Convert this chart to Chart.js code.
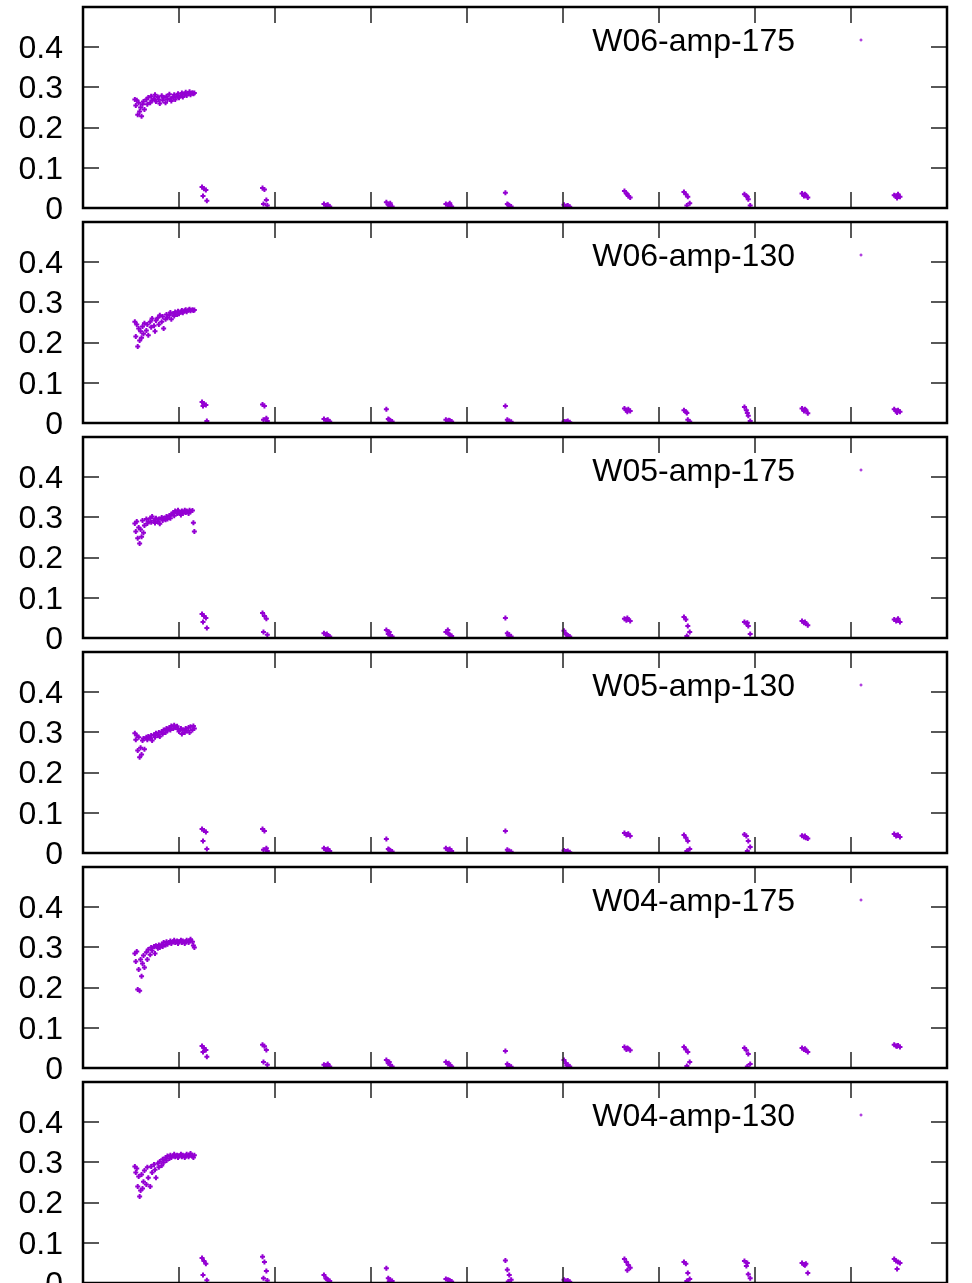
<!DOCTYPE html>
<html>
<head>
<meta charset="utf-8">
<script src="https://cdn.jsdelivr.net/npm/chart.js@4.4.0/dist/chart.umd.min.js"></script>
<style>
  html, body { margin: 0; padding: 0; background: #fff; overflow: hidden; }
  body { width: 972px; height: 1283px; position: relative; }
  canvas { position: absolute; left: 0; }
</style>
</head>
<body>
<script>
// panel titles, top to bottom
const panelLabels = ["W06-amp-175", "W06-amp-130", "W05-amp-175", "W05-amp-130", "W04-amp-175", "W04-amp-130"];

const xTicks = [1, 2, 3, 4, 5, 6, 7, 8];
const yTicks = [0.1, 0.2, 0.3, 0.4];

// x positions of the big group (same for every panel)
const mainX = [0.54, 0.55, 0.56, 0.57, 0.58, 0.59, 0.60, 0.61, 0.62, 0.63, 0.64,
  0.66, 0.67, 0.68, 0.70, 0.71, 0.72, 0.74, 0.75, 0.76, 0.78, 0.79, 0.80,
  0.82, 0.83, 0.84, 0.86, 0.87, 0.88, 0.90, 0.91, 0.92, 0.94, 0.95, 0.96,
  0.98, 0.99, 1.00, 1.02, 1.03, 1.04, 1.06, 1.07, 1.08, 1.10, 1.11, 1.12,
  1.14, 1.15, 1.16];

// x positions of the small groups, 5 points each
const tailX = [
  1.24, 1.26, 1.28, 1.25, 1.29,
  1.87, 1.89, 1.91, 1.88, 1.92,
  2.51, 2.53, 2.55, 2.57, 2.54,
  3.16, 3.18, 3.20, 3.22, 3.19,
  3.78, 3.80, 3.82, 3.84, 3.81,
  4.40, 4.42, 4.44, 4.46, 4.43,
  5.01, 5.03, 5.05, 5.07, 5.04,
  5.64, 5.66, 5.68, 5.70, 5.67,
  6.26, 6.28, 6.30, 6.32, 6.29,
  6.89, 6.91, 6.93, 6.95, 6.92,
  7.49, 7.51, 7.53, 7.55, 7.52,
  8.45, 8.47, 8.49, 8.51, 8.48
];

const w06a175Main = [0.270, 0.255, 0.268, 0.232, 0.262, 0.240, 0.250, 0.228, 0.258, 0.265, 0.245,
  0.270, 0.258, 0.275, 0.262, 0.278, 0.268, 0.272, 0.282, 0.265, 0.276, 0.270, 0.260,
  0.279, 0.268, 0.274, 0.262, 0.278, 0.270, 0.283, 0.272, 0.266, 0.276, 0.282, 0.270,
  0.278, 0.284, 0.274, 0.280, 0.286, 0.276, 0.283, 0.288, 0.280, 0.285, 0.289, 0.282,
  0.287, 0.284, 0.286];
const w06a175Tail = [
  0.052, 0.048, 0.045, 0.030, 0.018,
  0.050, 0.046, 0.020, 0.010, 0.006,
  0.010, 0.006, 0.008, 0.004, 0.007,
  0.014, 0.008, 0.012, 0.004, 0.006,
  0.010, 0.006, 0.012, 0.004, 0.008,
  0.038, 0.010, 0.006, 0.004, 0.008,
  0.008, 0.004, 0.006, 0.003, 0.005,
  0.042, 0.036, 0.030, 0.026, 0.034,
  0.040, 0.034, 0.028, 0.012, 0.006,
  0.034, 0.030, 0.022, 0.006, 0.028,
  0.036, 0.030, 0.032, 0.026, 0.034,
  0.032, 0.030, 0.034, 0.028, 0.025
];

const w06a130Main = [0.252, 0.215, 0.245, 0.190, 0.235, 0.205, 0.228, 0.212, 0.240, 0.222, 0.248,
  0.230, 0.245, 0.218, 0.252, 0.238, 0.260, 0.242, 0.228, 0.255, 0.262, 0.245, 0.268,
  0.252, 0.265, 0.235, 0.258, 0.270, 0.262, 0.268, 0.275, 0.258, 0.272, 0.266, 0.276,
  0.270, 0.278, 0.272, 0.276, 0.280, 0.274, 0.279, 0.282, 0.277, 0.281, 0.283, 0.279,
  0.282, 0.280, 0.281];
const w06a130Tail = [
  0.052, 0.048, 0.045, 0.042, 0.005,
  0.046, 0.042, 0.012, 0.008, 0.005,
  0.010, 0.006, 0.008, 0.004, 0.007,
  0.034, 0.010, 0.006, 0.004, 0.008,
  0.008, 0.005, 0.006, 0.004, 0.007,
  0.042, 0.008, 0.005, 0.003, 0.004,
  0.004, 0.003, 0.005, 0.002, 0.003,
  0.036, 0.032, 0.034, 0.030, 0.028,
  0.032, 0.028, 0.008, 0.004, 0.025,
  0.040, 0.032, 0.018, 0.005, 0.025,
  0.036, 0.030, 0.032, 0.024, 0.034,
  0.034, 0.030, 0.032, 0.028, 0.026
];

const w05a175Main = [0.285, 0.265, 0.290, 0.248, 0.275, 0.235, 0.270, 0.252, 0.292, 0.262, 0.280,
  0.296, 0.285, 0.290, 0.298, 0.288, 0.302, 0.292, 0.286, 0.298, 0.290, 0.296, 0.284,
  0.300, 0.292, 0.298, 0.294, 0.302, 0.296, 0.305, 0.298, 0.308, 0.312, 0.304, 0.316,
  0.310, 0.318, 0.312, 0.306, 0.316, 0.310, 0.318, 0.312, 0.316, 0.310, 0.318, 0.314,
  0.317, 0.287, 0.265];
const w05a175Tail = [
  0.060, 0.055, 0.050, 0.040, 0.025,
  0.062, 0.055, 0.048, 0.015, 0.008,
  0.012, 0.008, 0.006, 0.004, 0.010,
  0.020, 0.010, 0.006, 0.004, 0.015,
  0.015, 0.020, 0.008, 0.005, 0.010,
  0.050, 0.012, 0.008, 0.004, 0.006,
  0.018, 0.010, 0.006, 0.004, 0.008,
  0.048, 0.044, 0.046, 0.042, 0.050,
  0.052, 0.046, 0.030, 0.015, 0.005,
  0.040, 0.036, 0.030, 0.010, 0.038,
  0.042, 0.038, 0.036, 0.032, 0.040,
  0.046, 0.042, 0.048, 0.040, 0.044
];

const w05a130Main = [0.298, 0.282, 0.292, 0.255, 0.288, 0.238, 0.262, 0.245, 0.280, 0.285, 0.258,
  0.288, 0.282, 0.290, 0.286, 0.292, 0.280, 0.294, 0.288, 0.298, 0.292, 0.300, 0.290,
  0.302, 0.296, 0.306, 0.300, 0.310, 0.304, 0.312, 0.306, 0.316, 0.310, 0.318, 0.312,
  0.315, 0.308, 0.302, 0.310, 0.296, 0.306, 0.300, 0.310, 0.304, 0.312, 0.300, 0.314,
  0.306, 0.316, 0.310];
const w05a130Tail = [
  0.060, 0.056, 0.052, 0.030, 0.010,
  0.060, 0.055, 0.012, 0.008, 0.005,
  0.012, 0.008, 0.010, 0.005, 0.007,
  0.035, 0.010, 0.006, 0.004, 0.008,
  0.012, 0.008, 0.010, 0.005, 0.007,
  0.055, 0.008, 0.005, 0.003, 0.004,
  0.006, 0.004, 0.005, 0.002, 0.003,
  0.050, 0.045, 0.048, 0.042, 0.046,
  0.045, 0.038, 0.030, 0.010, 0.005,
  0.046, 0.042, 0.030, 0.015, 0.005,
  0.043, 0.040, 0.038, 0.036, 0.042,
  0.047, 0.042, 0.045, 0.040, 0.044
];

const w04a175Main = [0.285, 0.265, 0.290, 0.195, 0.245, 0.192, 0.270, 0.228, 0.260, 0.280, 0.250,
  0.288, 0.270, 0.295, 0.282, 0.300, 0.292, 0.302, 0.285, 0.304, 0.298, 0.306, 0.300,
  0.308, 0.302, 0.312, 0.306, 0.314, 0.308, 0.312, 0.316, 0.310, 0.314, 0.318, 0.312,
  0.316, 0.310, 0.314, 0.318, 0.312, 0.316, 0.310, 0.314, 0.318, 0.312, 0.316, 0.320,
  0.314, 0.305, 0.300];
const w04a175Tail = [
  0.055, 0.050, 0.045, 0.040, 0.028,
  0.058, 0.054, 0.045, 0.015, 0.008,
  0.008, 0.006, 0.010, 0.004, 0.007,
  0.020, 0.012, 0.008, 0.004, 0.015,
  0.015, 0.010, 0.006, 0.004, 0.012,
  0.042, 0.010, 0.006, 0.003, 0.005,
  0.020, 0.012, 0.008, 0.004, 0.006,
  0.052, 0.046, 0.048, 0.044, 0.050,
  0.052, 0.046, 0.040, 0.015, 0.005,
  0.050, 0.044, 0.035, 0.010, 0.004,
  0.050, 0.046, 0.044, 0.040, 0.048,
  0.058, 0.055, 0.056, 0.052, 0.054
];

const w04a130Main = [0.290, 0.275, 0.285, 0.240, 0.265, 0.215, 0.230, 0.270, 0.235, 0.252, 0.280,
  0.245, 0.288, 0.262, 0.240, 0.290, 0.275, 0.295, 0.282, 0.262, 0.298, 0.288, 0.302,
  0.292, 0.308, 0.300, 0.312, 0.305, 0.316, 0.310, 0.318, 0.312, 0.316, 0.320, 0.314,
  0.318, 0.312, 0.316, 0.320, 0.314, 0.318, 0.312, 0.316, 0.320, 0.314, 0.318, 0.322,
  0.316, 0.312, 0.318];
const w04a130Tail = [
  0.062, 0.055, 0.048, 0.020, 0.007,
  0.065, 0.052, 0.030, 0.012, 0.006,
  0.020, 0.012, 0.008, 0.005, 0.010,
  0.037, 0.012, 0.008, 0.005, 0.004,
  0.010, 0.008, 0.006, 0.004, 0.007,
  0.056, 0.033, 0.020, 0.008, 0.004,
  0.008, 0.005, 0.006, 0.003, 0.004,
  0.060, 0.052, 0.045, 0.038, 0.032,
  0.052, 0.048, 0.025, 0.010, 0.005,
  0.055, 0.042, 0.022, 0.012, 0.050,
  0.050, 0.046, 0.048, 0.025, 0.044,
  0.060, 0.055, 0.052, 0.050, 0.035
];

const panelMain = [w06a175Main, w06a130Main, w05a175Main, w05a130Main, w04a175Main, w04a130Main];
const panelTail = [w06a175Tail, w06a130Tail, w05a175Tail, w05a130Tail, w04a175Tail, w04a130Tail];

const POINT_COLOR = "#9400d3";
const FONT = "Liberation Sans, Arial, sans-serif";
const FONT_SIZE = 32;
const PANEL_STEP = 215;
const TICK_LEN = 16;

// gnuplot style: thick frame, inward mirrored ticks, key in the top right
const frameTicks = {
  id: "frameTicks",
  afterDatasetsDraw(chart) {
    const { ctx, chartArea: a, scales: { x, y } } = chart;
    ctx.save();
    ctx.strokeStyle = "#222";
    ctx.lineWidth = 1.5;
    ctx.beginPath();
    xTicks.forEach((v) => {
      const px = Math.round(x.getPixelForValue(v));
      ctx.moveTo(px, a.bottom);
      ctx.lineTo(px, a.bottom - TICK_LEN);
      ctx.moveTo(px, a.top);
      ctx.lineTo(px, a.top + TICK_LEN);
    });
    yTicks.forEach((v) => {
      const py = Math.round(y.getPixelForValue(v));
      ctx.moveTo(a.left, py);
      ctx.lineTo(a.left + TICK_LEN, py);
      ctx.moveTo(a.right, py);
      ctx.lineTo(a.right - TICK_LEN, py);
    });
    ctx.stroke();

    ctx.strokeStyle = "#000";
    ctx.lineWidth = 2.5;
    ctx.strokeRect(a.left, a.top, a.right - a.left, a.bottom - a.top);

    // key
    const ky = a.top + 35;
    ctx.fillStyle = "#000";
    ctx.font = FONT_SIZE + "px " + FONT;
    ctx.textAlign = "right";
    ctx.textBaseline = "middle";
    ctx.fillText(chart.options.plugins.frameTicks.label, a.right - 152, ky);
    ctx.strokeStyle = POINT_COLOR;
    ctx.lineWidth = 1;
    ctx.beginPath();
    ctx.moveTo(a.right - 87.5, ky - 2);
    ctx.lineTo(a.right - 84.5, ky - 2);
    ctx.moveTo(a.right - 86, ky - 3.5);
    ctx.lineTo(a.right - 86, ky - 0.5);
    ctx.stroke();
    ctx.restore();
  }
};

function makePanel(i) {
  const canvas = document.createElement("canvas");
  canvas.width = 972;
  canvas.height = 240;
  canvas.style.top = (PANEL_STEP * i - 10) + "px";
  document.body.appendChild(canvas);

  const all = mainX.concat(tailX);
  const ys = panelMain[i].concat(panelTail[i]);
  const points = all.map((x, k) => ({ x: x, y: ys[k] }));

  new Chart(canvas.getContext("2d"), {
    type: "scatter",
    data: {
      datasets: [{
        label: panelLabels[i],
        data: points,
        pointStyle: "cross",
        pointRadius: 2.5,
        borderWidth: 2,
        borderColor: POINT_COLOR,
        backgroundColor: POINT_COLOR
      }]
    },
    options: {
      responsive: false,
      animation: false,
      devicePixelRatio: 1,
      layout: { padding: { top: 17, bottom: 22, left: 0, right: 25 } },
      plugins: {
        legend: { display: false },
        tooltip: { enabled: false },
        frameTicks: { label: panelLabels[i] }
      },
      scales: {
        x: { type: "linear", min: 0, max: 9, display: false },
        y: {
          min: 0,
          max: 0.5,
          afterFit: (s) => {
            s.width = 83;
            s.paddingTop = 0;
            s.paddingBottom = 0;
          },
          grid: { display: false, drawTicks: false },
          border: { display: false },
          ticks: {
            stepSize: 0.1,
            autoSkip: false,
            padding: 20,
            labelOffset: 2,
            color: "#000",
            font: { family: FONT, size: FONT_SIZE, lineHeight: 1 },
            callback: (v) => (v > 0.45 ? "" : String(+v.toFixed(1)))
          }
        }
      }
    },
    plugins: [frameTicks]
  });
}

for (let i = 0; i < panelLabels.length; i++) makePanel(i);
</script>
</body>
</html>
